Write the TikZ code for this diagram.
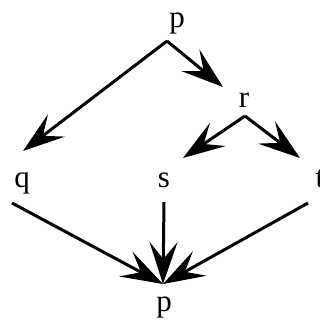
\documentclass[tikz,border=0pt]{standalone}
\usepackage{fontspec}
\setmainfont{Liberation Serif}
\usetikzlibrary{arrows.meta}
\begin{document}
\begin{tikzpicture}[x=1pt,y=-1pt,
  lbl/.style={anchor=base,inner sep=0pt,font=\fontsize{31}{31}\selectfont},
  arr/.style={line width=3pt,-{Stealth[length=42pt,width=28pt,inset=17pt]}}]
\useasboundingbox (0,0) rectangle (320,327);
\node[lbl] (p) at (177,27) {p};
\node[lbl] (r) at (244,107) {r};
\node[lbl] (q) at (22,187) {q};
\node[lbl] (s) at (164,187) {s};
\node[lbl] (t) at (320,187) {t};
\node[lbl] (pb) at (164,311) {p};
\coordinate (pout) at (167,41);
\coordinate (qin) at (23,151);
\coordinate (rin) at (223,87);
\coordinate (rout) at (245,116);
\coordinate (sin) at (183,158);
\coordinate (tin) at (300,158);
\coordinate (qout) at (12,203);
\coordinate (sout) at (164,202);
\coordinate (tout) at (308,203);
\coordinate (pbin) at (163,284);
\draw[arr] (pout) -- (qin);
\draw[arr] (pout) -- (rin);
\draw[arr] (rout) -- (sin);
\draw[arr] (rout) -- (tin);
\draw[arr] (qout) -- (pbin);
\draw[arr] (sout) -- (pbin);
\draw[arr] (tout) -- (pbin);
\end{tikzpicture}
\end{document}
